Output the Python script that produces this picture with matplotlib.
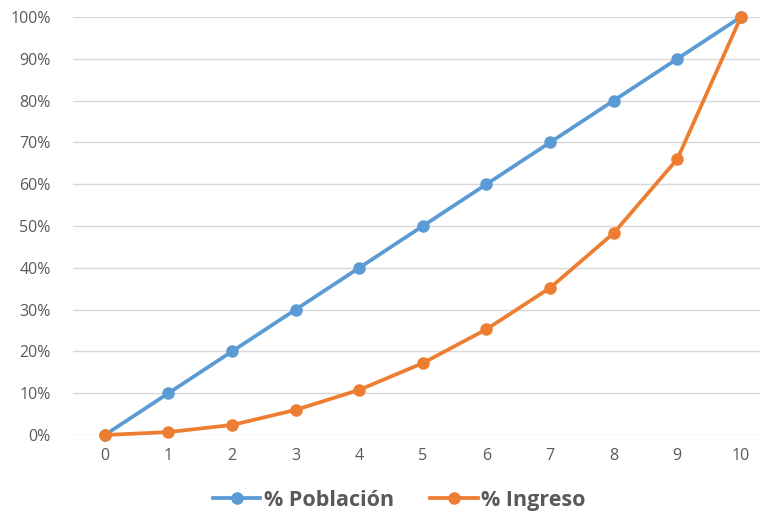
import matplotlib
matplotlib.use("Agg")
from matplotlib import pyplot as plt
from matplotlib.ticker import PercentFormatter

# datos de la curva de Lorenz
deciles = [0, 1, 2, 3, 4, 5, 6, 7, 8, 9, 10]
poblacion = [0, 10, 20, 30, 40, 50, 60, 70, 80, 90, 100]
ingreso = [0, 0.7, 2.4, 6.0, 10.8, 17.2, 25.3, 35.2, 48.3, 66.0, 100]

plt.rcParams['font.family'] = ['Open Sans', 'DejaVu Sans']

fig = plt.figure(figsize=(7.61, 5.13), dpi=100)
ax = fig.add_axes([73 / 761, 1 - 435 / 513, (760 - 73) / 761, (435 - 17) / 513])

ax.plot(deciles, poblacion, color='#5B9BD5', lw=2.7, marker='o', ms=8,
        label='% Población', clip_on=False, zorder=3)
ax.plot(deciles, ingreso, color='#ED7D31', lw=2.7, marker='o', ms=8,
        label='% Ingreso', clip_on=False, zorder=4)

ax.set_xlim(-0.5, 10.3)
ax.set_ylim(0, 100)
ax.set_xticks(deciles)
ax.set_yticks(range(0, 101, 10))
ax.yaxis.set_major_formatter(PercentFormatter(decimals=0))
ax.grid(axis='y', color='#D9D9D9', lw=1)
ax.set_axisbelow(True)
for s in ax.spines.values():
    s.set_visible(False)
ax.tick_params(length=0, colors='#595959', labelsize=11.5)
ax.tick_params(axis='x', pad=9)
ax.tick_params(axis='y', pad=16)

leg = ax.legend(loc='upper center', bbox_to_anchor=(0.475, -0.085), ncol=2, frameon=False,
                prop={'weight': 'bold', 'size': 15.5}, handlelength=2.2, columnspacing=1.7,
                handletextpad=0.15)
for t in leg.get_texts():
    t.set_color('#595959')

fig.savefig('out.png', dpi=100)
